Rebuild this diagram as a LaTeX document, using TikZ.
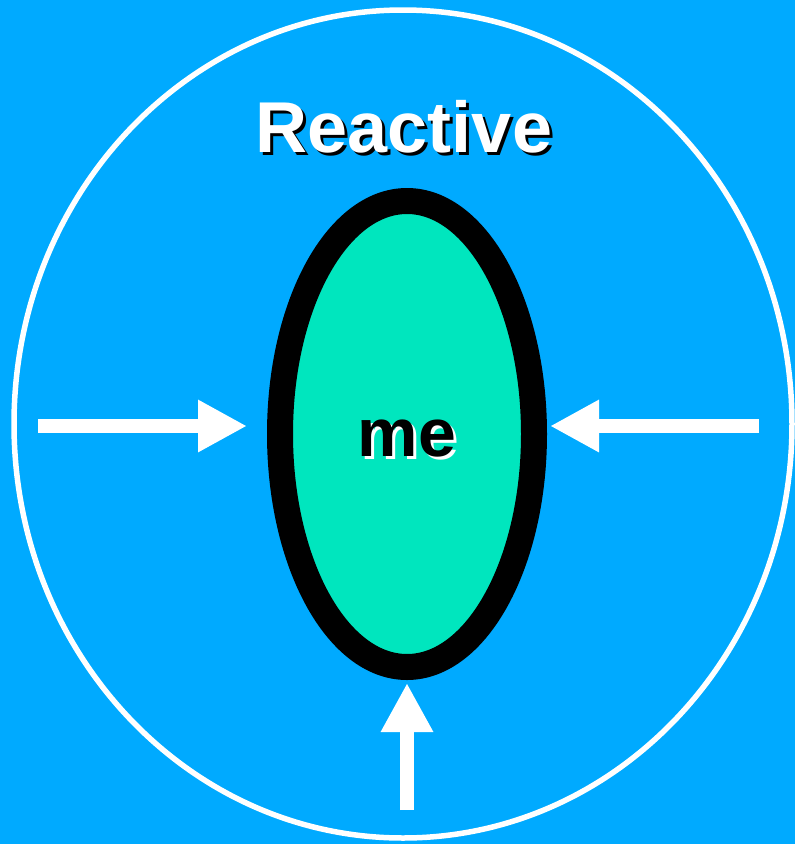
\documentclass[tikz,border=0pt]{standalone}
\usepackage{fontspec}
\setmainfont{Liberation Sans}
\usetikzlibrary{arrows.meta,shapes.geometric}
\definecolor{bgblue}{RGB}{0,170,255}
\definecolor{mefill}{RGB}{0,230,190}
\newcommand{\shadowtext}[3]{\makebox[0pt][l]{\hspace*{3pt}\raisebox{-3pt}{\textcolor{#1}{#3}}}\textcolor{#2}{#3}}
\tikzset{
  arr/.style={draw=white, line width=14pt,
    -{Triangle[length=49pt,width=49pt]}},
  titletext/.style={font=\fontsize{72pt}{80pt}\selectfont\bfseries, inner sep=0pt, anchor=base},
  metext/.style={font=\fontsize{68pt}{76pt}\selectfont\bfseries, inner sep=0pt, anchor=base},
  selfbox/.style={ellipse, draw=black, fill=mefill, line width=26pt,
    minimum width=254pt, minimum height=466pt, inner sep=0pt, outer sep=13pt}
}
\begin{document}
\begin{tikzpicture}[x=1pt,y=-1pt]
\fill[bgblue] (0,0) rectangle (795,844);
\useasboundingbox (0,0) rectangle (795,844);
% outer environment
\draw[white, line width=5.5pt] (403,424) ellipse [x radius=389, y radius=414];
% self
\node[selfbox] (me) at (407,434) {};
% texts with shadows
\node[titletext] (title) at (404,152) {\shadowtext{black}{white}{Reactive}};
\node[metext] (melabel) at (407,456) {\shadowtext{white}{black}{me}};
% arrows
\coordinate (lstart) at (38,426);
\coordinate (rstart) at (759,426);
\coordinate (bstart) at (407,810);
\draw[arr, shorten >=20pt] (lstart) -- (lstart -| me.west);
\draw[arr, shorten >=3pt] (rstart) -- (rstart -| me.east);
\draw[arr, shorten >=3pt] (bstart) -- (me.south);
\end{tikzpicture}
\end{document}
